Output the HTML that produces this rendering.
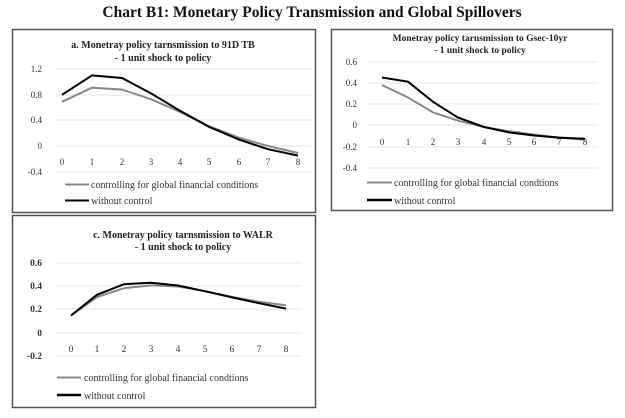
<!DOCTYPE html>
<html><head><meta charset="utf-8"><style>
html,body{margin:0;padding:0;background:#fff;}
svg{display:block;}
text{font-family:"Liberation Serif",serif;}
</style></head><body>
<svg width="625" height="418" viewBox="0 0 625 418" xmlns="http://www.w3.org/2000/svg">
<text x="312" y="17" text-anchor="middle" font-size="15.5" font-weight="bold" fill="#111">Chart B1: Monetary Policy Transmission and Global Spillovers</text>

<!-- Panel a -->
<rect x="12.5" y="29.5" width="303" height="183" fill="#fff" stroke="#555" stroke-width="1.5"/>
<text x="163" y="48" text-anchor="middle" font-size="10" font-weight="bold" fill="#222">a. Monetray policy tarnsmission to 91D TB</text>
<text x="163" y="61" text-anchor="middle" font-size="10" font-weight="bold" fill="#222">- 1 unit shock to policy</text>
<g stroke="#e6e6e6" stroke-width="1">
<line x1="55" x2="312" y1="69" y2="69"/><line x1="55" x2="312" y1="95" y2="95"/><line x1="55" x2="312" y1="120" y2="120"/><line x1="55" x2="312" y1="146" y2="146"/><line x1="55" x2="312" y1="172" y2="172"/>
</g>
<g font-size="9" fill="#333" text-anchor="end">
<text x="42" y="72">1.2</text><text x="42" y="98">0.8</text><text x="42" y="123">0.4</text><text x="42" y="149">0</text><text x="42" y="175">-0.4</text>
</g>
<g font-size="9" fill="#333" text-anchor="middle">
<text x="62" y="165">0</text><text x="92" y="165">1</text><text x="122" y="165">2</text><text x="151" y="165">3</text><text x="180" y="165">4</text><text x="209" y="165">5</text><text x="239" y="165">6</text><text x="268" y="165">7</text><text x="298" y="165">8</text>
</g>
<polyline fill="none" stroke="#888" stroke-width="2" points="62,101.8 92,87.7 122,89.6 151,99.2 180,112 209,126.2 239,137.7 268,146 298,153"/>
<polyline fill="none" stroke="#000" stroke-width="2" points="62,94.8 92,75.4 122,78 151,93.4 180,110.8 209,126.8 239,139.6 268,149.2 298,155.6"/>
<line x1="65" x2="89" y1="184.5" y2="184.5" stroke="#888" stroke-width="2"/>
<text x="91" y="188" font-size="10" fill="#333">controlling for global financial conditions</text>
<line x1="65" x2="89" y1="200.5" y2="200.5" stroke="#000" stroke-width="2"/>
<text x="91" y="204" font-size="10" fill="#333">without control</text>

<!-- Panel b -->
<rect x="331.5" y="29.5" width="281" height="181" fill="#fff" stroke="#555" stroke-width="1.5"/>
<text x="480" y="41" text-anchor="middle" font-size="9.5" font-weight="bold" fill="#222">Monetray policy tarnsmission to Gsec-10yr</text>
<text x="480" y="53" text-anchor="middle" font-size="9.5" font-weight="bold" fill="#222">- 1 unit shock to policy</text>
<g stroke="#e6e6e6" stroke-width="1">
<line x1="367" x2="598" y1="62" y2="62"/><line x1="367" x2="598" y1="83" y2="83"/><line x1="367" x2="598" y1="104" y2="104"/><line x1="367" x2="598" y1="125" y2="125"/><line x1="367" x2="598" y1="147" y2="147"/><line x1="367" x2="598" y1="168" y2="168"/>
</g>
<g font-size="9" fill="#333" text-anchor="end">
<text x="357" y="65">0.6</text><text x="357" y="86">0.4</text><text x="357" y="107">0.2</text><text x="357" y="128">0</text><text x="357" y="150">-0.2</text><text x="357" y="171">-0.4</text>
</g>
<g font-size="9" fill="#333" text-anchor="middle">
<text x="382" y="145">0</text><text x="408" y="145">1</text><text x="433" y="145">2</text><text x="458" y="145">3</text><text x="484" y="145">4</text><text x="509" y="145">5</text><text x="534" y="145">6</text><text x="559" y="145">7</text><text x="585" y="145">8</text>
</g>
<polyline fill="none" stroke="#888" stroke-width="2" points="382,85 408,97.5 433,112.3 458,120.7 484,127 509,131.3 534,134.5 559,137.6 585,139.7"/>
<polyline fill="none" stroke="#000" stroke-width="2" points="382,77.5 408,81.7 433,101.8 458,117.6 484,127 509,132.4 534,135.5 559,137.6 585,138.7"/>
<line x1="367" x2="392" y1="182.5" y2="182.5" stroke="#888" stroke-width="2"/>
<text x="394" y="186" font-size="10" fill="#333">controlling for global financial condtions</text>
<line x1="367" x2="392" y1="200" y2="200" stroke="#000" stroke-width="2.5"/>
<text x="394" y="204" font-size="10" fill="#333">without control</text>

<!-- Panel c -->
<rect x="12.5" y="215.5" width="303" height="192" fill="#fff" stroke="#555" stroke-width="1.5"/>
<text x="183" y="238" text-anchor="middle" font-size="10" font-weight="bold" fill="#222">c. Monetray policy tarnsmission to WALR</text>
<text x="183" y="250" text-anchor="middle" font-size="10" font-weight="bold" fill="#222">- 1 unit shock to policy</text>
<g stroke="#e6e6e6" stroke-width="1">
<line x1="55" x2="302" y1="263" y2="263"/><line x1="55" x2="302" y1="286" y2="286"/><line x1="55" x2="302" y1="309" y2="309"/><line x1="55" x2="302" y1="333" y2="333"/><line x1="55" x2="302" y1="356" y2="356"/>
</g>
<g font-size="9.5" fill="#333" text-anchor="end" font-weight="bold">
<text x="42" y="266">0.6</text><text x="42" y="289">0.4</text><text x="42" y="312">0.2</text><text x="42" y="336">0</text><text x="42" y="359">-0.2</text>
</g>
<g font-size="9.5" fill="#333" text-anchor="middle">
<text x="71" y="352">0</text><text x="97" y="352">1</text><text x="124" y="352">2</text><text x="151" y="352">3</text><text x="178" y="352">4</text><text x="205" y="352">5</text><text x="232" y="352">6</text><text x="259" y="352">7</text><text x="286" y="352">8</text>
</g>
<polyline fill="none" stroke="#888" stroke-width="2" points="71,315.5 97,297 124,288.2 151,285.4 178,286.5 205,291.2 232,296.9 259,301.8 286,305.2"/>
<polyline fill="none" stroke="#000" stroke-width="2" points="71,315.5 97,294.8 124,284.2 151,282.8 178,285.5 205,291.2 232,297.4 259,303.2 286,308.6"/>
<line x1="57" x2="81" y1="377.5" y2="377.5" stroke="#888" stroke-width="2"/>
<text x="84" y="381" font-size="10" fill="#333">controlling for global financial condtions</text>
<line x1="57" x2="81" y1="395" y2="395" stroke="#000" stroke-width="2.5"/>
<text x="84" y="399" font-size="10" fill="#333">without control</text>
</svg>
</body></html>
